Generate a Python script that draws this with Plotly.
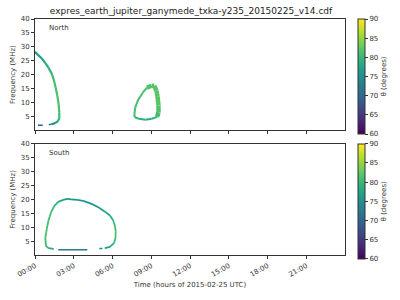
import plotly.graph_objects as go
from plotly.subplots import make_subplots
from plotly.colors import sample_colorscale

TITLE = "expres_earth_jupiter_ganymede_txka-y235_20150225_v14.cdf"
X_TICKS = [0, 3, 6, 9, 12, 15, 18, 21]
X_LABELS = ["00:00", "03:00", "06:00", "09:00", "12:00", "15:00", "18:00", "21:00"]
Y_TICKS = [5, 10, 15, 20, 25, 30, 35, 40]
CB_TICKS = [60, 65, 70, 75, 80, 85, 90]
TH_MIN, TH_MAX = 60, 90

# ---- North hemisphere ----
N_ARC_T = [0.0, 0.27, 0.53, 0.77, 1.03, 1.28, 1.45, 1.6, 1.73, 1.83, 1.88, 1.88, 1.78, 1.58, 1.33]
N_ARC_F = [28.2, 26.9, 25.8, 24.3, 22.6, 20.5, 18.2, 15.3, 12.4, 9.4, 6.5, 4.2, 3.3, 2.6, 2.2]
N_ARC_TH = [76, 76.5, 77, 78, 79, 80, 81, 81, 81.5, 81.5, 81, 80, 78, 76, 74]

N_DASH1_T = [0.23, 0.6]
N_DASH1_F = [1.75, 1.75]
N_DASH1_TH = [69, 69]

N_DASH2_T = [1.07, 1.33]
N_DASH2_F = [2.0, 2.2]
N_DASH2_TH = [73, 73]

N_LOOP_THIN_T = [9.45, 9.04, 8.55, 8.03, 7.73, 7.69, 7.76, 7.99, 8.33, 8.66]
N_LOOP_THIN_F = [4.8, 4.1, 3.8, 4.1, 4.67, 5.54, 8.17, 10.97, 13.4, 15.3]
N_LOOP_THIN_TH = [80, 79, 78.5, 79, 80, 81, 81, 81, 81, 81.5]

N_LOOP_THICK_T = [8.66, 9.04, 9.23, 9.41, 9.49, 9.56, 9.56, 9.45]
N_LOOP_THICK_F = [15.3, 16.0, 16.0, 14.1, 12.0, 8.9, 6.4, 4.8]
N_LOOP_THICK_TH = [81.5, 82, 82, 82, 82, 82, 81.5, 80]

# ---- South hemisphere ----
S_LOOP_T = [1.43, 1.05, 0.85, 0.80, 0.92, 1.05, 1.25, 1.5, 1.8, 2.18, 2.5, 2.8, 3.3, 3.8,
            4.43, 4.93, 5.42, 5.8, 6.05, 6.17, 6.25, 6.23, 6.13, 5.8, 5.42]
S_LOOP_F = [2.2, 2.46, 3.26, 6.13, 9.6, 12.5, 15.4, 17.7, 19.1, 19.8, 20.2, 20.0, 19.8, 19.4,
            18.3, 17.1, 15.6, 14.2, 12.5, 10.8, 8.5, 6.1, 4.4, 2.9, 2.5]
S_LOOP_TH = [77, 79, 80.5, 81, 81, 81, 80.5, 80, 78.5, 77, 76.5, 76, 76, 76,
             76, 76.5, 77, 78, 80, 81, 81.5, 81.5, 80, 77.5, 76.5]

S_DASH1_T = [4.97, 5.23]
S_DASH1_F = [2.3, 2.3]
S_DASH1_TH = [76, 76]

S_DASH2_T = [1.8, 4.05]
S_DASH2_F = [1.87, 1.87]
S_DASH2_TH = [72.5, 72.5]

FONT = "DejaVu Sans"
AX_COL = "#333333"

fig = make_subplots(rows=2, cols=1, shared_xaxes=False, vertical_spacing=14 / 243)


def col(th):
    v = (th - TH_MIN) / (TH_MAX - TH_MIN)
    v = min(max(v, 0), 1)
    return sample_colorscale("Viridis", [v])[0]


def draw(row, t, f, th, width):
    for i in range(len(t) - 1):
        fig.add_trace(go.Scatter(
            x=[t[i], t[i + 1]], y=[f[i], f[i + 1]], mode="lines",
            line=dict(color=col((th[i] + th[i + 1]) / 2), width=width),
            hoverinfo="skip", showlegend=False), row=row, col=1)


def scale_trace(row, t, f, th, ytop):
    fig.add_trace(go.Scatter(
        x=t, y=f, mode="markers",
        marker=dict(size=1, color=th, colorscale="Viridis", cmin=TH_MIN, cmax=TH_MAX,
                    showscale=True,
                    colorbar=dict(
                        x=(364 - 31) / 320, xanchor="left", xpad=0, ypad=0,
                        y=ytop, yanchor="top", lenmode="pixels", len=115,
                        thickness=7, outlinewidth=1, outlinecolor=AX_COL,
                        tickmode="array", tickvals=CB_TICKS, ticks="outside",
                        ticklen=3, tickcolor=AX_COL,
                        tickfont=dict(size=7, color=AX_COL, family=FONT),
                        title=dict(text="θ (degrees)", side="right",
                                   font=dict(size=7, color=AX_COL, family=FONT)))),
        hoverinfo="skip", showlegend=False), row=row, col=1)


draw(1, N_ARC_T, N_ARC_F, N_ARC_TH, 2.2)
draw(1, N_DASH1_T, N_DASH1_F, N_DASH1_TH, 1.5)
draw(1, N_DASH2_T, N_DASH2_F, N_DASH2_TH, 1.5)
draw(1, N_LOOP_THIN_T, N_LOOP_THIN_F, N_LOOP_THIN_TH, 2)
draw(1, N_LOOP_THICK_T, N_LOOP_THICK_F, N_LOOP_THICK_TH, 4.5)
scale_trace(1, N_ARC_T, N_ARC_F, N_ARC_TH, 1.0)

draw(2, S_LOOP_T, S_LOOP_F, S_LOOP_TH, 1.8)
draw(2, S_DASH1_T, S_DASH1_F, S_DASH1_TH, 1.5)
draw(2, S_DASH2_T, S_DASH2_F, S_DASH2_TH, 1.5)
scale_trace(2, S_LOOP_T, S_LOOP_F, S_LOOP_TH, (262 - 147.5) / 243)

axis_common = dict(range=[0, 24], showline=True, mirror=True, linecolor=AX_COL, linewidth=1,
                   ticks="outside", ticklen=3, tickcolor=AX_COL, showgrid=False, zeroline=False,
                   tickmode="array", tickvals=X_TICKS, ticktext=X_LABELS,
                   tickfont=dict(size=7, color=AX_COL, family=FONT))
fig.update_xaxes(**axis_common, showticklabels=False, row=1, col=1)
fig.update_xaxes(**axis_common, tickangle=-30, row=2, col=1,
                 title=dict(text="Time (hours of 2015-02-25 UTC)", standoff=4,
                            font=dict(size=7, color=AX_COL, family=FONT)))
fig.update_yaxes(range=[0, 40], showline=True, mirror=True, linecolor=AX_COL, linewidth=1,
                 ticks="outside", ticklen=3, tickcolor=AX_COL, showgrid=False, zeroline=False,
                 tickmode="array", tickvals=Y_TICKS,
                 tickfont=dict(size=7, color=AX_COL, family=FONT),
                 title=dict(text="Frequency (MHz)", standoff=4,
                            font=dict(size=7, color=AX_COL, family=FONT)))

fig.add_annotation(text="North", x=0.04, y=0.915, xref="x domain", yref="y domain",
                   xanchor="left", yanchor="middle", showarrow=False,
                   font=dict(size=7, color=AX_COL, family=FONT))
fig.add_annotation(text="South", x=0.04, y=0.915, xref="x2 domain", yref="y2 domain",
                   xanchor="left", yanchor="middle", showarrow=False,
                   font=dict(size=7, color=AX_COL, family=FONT))

fig.update_layout(
    width=400, height=300, autosize=False,
    margin=dict(l=31, r=49, t=19, b=38, pad=0),
    paper_bgcolor="white", plot_bgcolor="white",
    font=dict(family=FONT, size=7, color=AX_COL),
    title=dict(text=TITLE, x=(31 + 351) / 2 / 400, xanchor="center",
               y=1 - 11 / 300, yanchor="middle", xref="container", yref="container",
               font=dict(size=9, color="#222222", family=FONT)),
    showlegend=False,
)

fig.write_html("out.html")
